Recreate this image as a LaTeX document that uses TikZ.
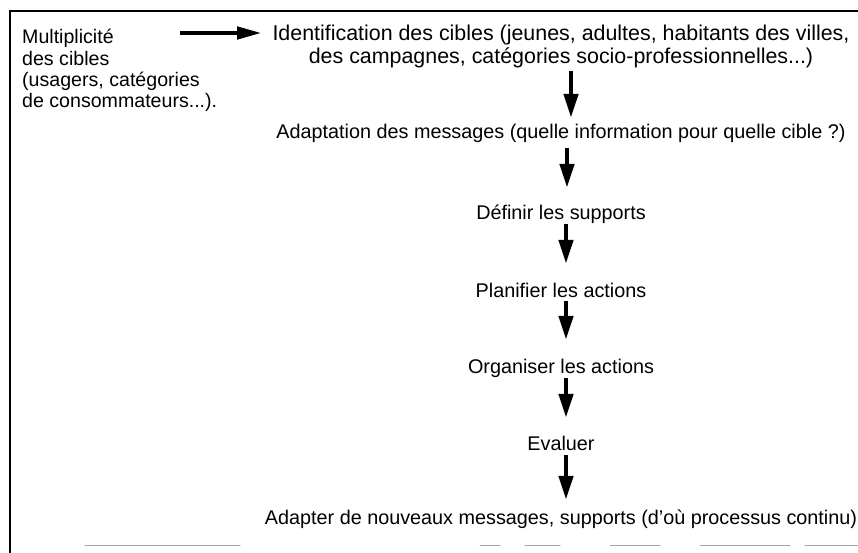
\documentclass[tikz,border=0pt]{standalone}
\usepackage{fontspec}
\setmainfont{Liberation Sans}
\usepackage{tikz}
\usetikzlibrary{arrows.meta}

\begin{document}
\begin{tikzpicture}[x=1pt,y=-1pt,line cap=round,
  stage/.style={font=\fontsize{19.8}{23}\selectfont,inner sep=0pt,align=center,text height=14pt,text depth=4pt},
  note/.style={font=\fontsize{19.6}{21.4}\selectfont,inner sep=0pt,align=left,anchor=north west},
  flow/.style={line width=4.6pt,line cap=butt,-{Triangle[length=24pt,width=14pt]}}]
\def\cx{561}  % centre of the chain
\useasboundingbox (0,0) rectangle (858,553);
% frame: top and left sides, faint scan of the bottom
\draw[line width=1.6pt] (858,11) -- (10,11) -- (10,553);
\foreach \a/\b in {85/240,480/500,525/560,610/660,700/790,805/858}
  \draw[black!35,line width=1pt] (\a,545) -- (\b,545);
% left note
\node[note] (multi) at (22,29) {Multiplicité\\des cibles\\(usagers, catégories\\de consommateurs...).};
% chain of steps
\node[inner sep=0pt,align=center,font=\fontsize{21.4}{23}\selectfont] (ident) at (\cx,46) {Identification des cibles (jeunes, adultes, habitants des villes,\\des campagnes, catégories socio-professionnelles...)};
\node[stage] (adapt) at (\cx,134) {Adaptation des messages (quelle information pour quelle cible ?)};
\node[stage] (supp) at (\cx,214) {Définir les supports};
\node[stage] (plan) at (\cx,292) {Planifier les actions};
\node[stage] (orga) at (\cx,368) {Organiser les actions};
\node[stage] (eval) at (\cx,445) {Evaluer};
\node[stage] (again) at (\cx,519) {Adapter de nouveaux messages, supports (d'où processus continu)};
% arrows
\coordinate (from) at (180,33);
\draw[flow,-{Triangle[length=25pt,width=12pt]}] (from) -- (262,33);
\draw[flow,shorten <=3pt,shorten >=7pt] (ident.south) ++(10,0) coordinate (a1) -- (a1 |- adapt.north);
\draw[flow,shorten <=5pt,shorten >=17pt] (adapt.south) ++(6,0) coordinate (a2) -- (a2 |- supp.north);
\draw[flow,shorten <=1pt,shorten >=19pt] (supp.south) ++(5,0) coordinate (a3) -- (a3 |- plan.north);
\draw[flow,shorten <=0pt,shorten >=19pt] (plan.south) ++(5,0) coordinate (a4) -- (a4 |- orga.north);
\draw[flow,shorten <=1pt,shorten >=18pt] (orga.south) ++(5,0) coordinate (a5) -- (a5 |- eval.north);
\draw[flow,shorten <=1pt,shorten >=10pt] (eval.south) ++(5,0) coordinate (a6) -- (a6 |- again.north);
\end{tikzpicture}
\end{document}
